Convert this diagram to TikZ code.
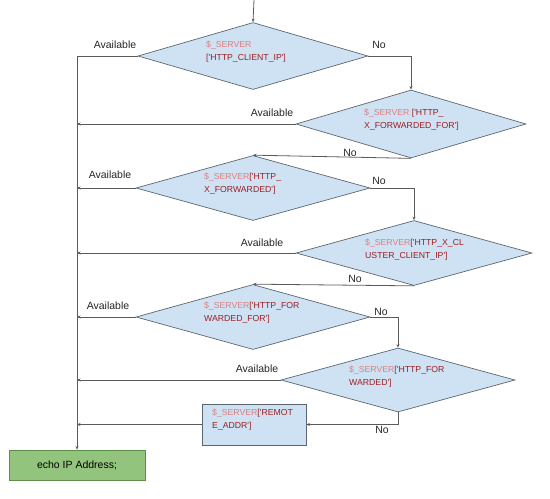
\documentclass[tikz,border=0pt]{standalone}
\usepackage{fontspec}
\setmainfont{Liberation Sans}
\usepackage{xcolor}
\usetikzlibrary{arrows, arrows.meta}
\usetikzlibrary{shapes.geometric}
\definecolor{decblue}{HTML}{CFE2F3}
\definecolor{decline}{HTML}{5C6670}
\definecolor{echogreen}{HTML}{93C47D}
\definecolor{echoline}{HTML}{5E8F48}
\definecolor{srvlight}{HTML}{D98080}
\definecolor{srvdark}{HTML}{9C1F22}
\definecolor{wire}{HTML}{5A5A5A}
\newcommand{\sq}{\textquotesingle}
\newcommand{\srv}[2]{{\color{srvlight}\$\_SERVER}{\color{srvdark}#1}\\{\color{srvdark}#2}}

\begin{document}
\begin{tikzpicture}[x=1pt, y=-1pt,
    decision/.style={diamond, draw=decline, fill=decblue, line width=0.7pt, inner sep=0pt},
    code/.style={anchor=base west, inner sep=0pt, align=left, font=\fontsize{8.7}{13}\selectfont},
    lbl/.style={inner sep=0pt, font=\fontsize{10.5}{12}\selectfont, text=black!85},
    wirearr/.style={draw=wire, line width=0.8pt, -{Stealth[length=3.5pt, width=3pt]}},
    wireline/.style={draw=wire, line width=0.8pt}]
    \useasboundingbox (0,0) rectangle (550,499);

    \coordinate (start) at (254,0);
    \node[decision, minimum width=230, minimum height=67] (d1) at (253,56) {};
    \node[decision, minimum width=230, minimum height=68] (d2) at (411,124) {};
    \node[decision, minimum width=234, minimum height=65] (d3) at (253,188) {};
    \node[decision, minimum width=236, minimum height=65] (d4) at (414,253) {};
    \node[decision, minimum width=234, minimum height=65] (d5) at (253,317) {};
    \node[decision, minimum width=234, minimum height=64] (d6) at (398,380) {};
    \node[rectangle, draw=decline, fill=decblue, line width=0.7pt, minimum width=104, minimum height=41] (addr) at (254,424.5) {};
    \node[rectangle, draw=echoline, fill=echogreen, line width=0.8pt, minimum width=136, minimum height=30, font=\fontsize{10.5}{12}\selectfont] (echo) at (77,465) {echo IP Address;};

    % texts in the shapes
    \node[code] (t1) at (206,60) {{\color{srvlight}\$\_SERVER}\\{\color{srvdark}[\sq HTTP\_CLIENT\_IP\sq]}};
    \node[code] (t2) at (364,128) {{\color{srvlight}\$\_SERVER} {\color{srvdark}[\sq HTTP\_}\\{\color{srvdark}X\_FORWARDED\_FOR\sq]}};
    \node[code] (t3) at (204,192) {\srv{[\sq HTTP\_}{X\_FORWARDED\sq]}};
    \node[code] (t4) at (365,258) {\srv{[\sq HTTP\_X\_CL}{USTER\_CLIENT\_IP\sq]}};
    \node[code] (t5) at (204,321) {\srv{[\sq HTTP\_FOR}{WARDED\_FOR\sq]}};
    \node[code] (t6) at (349,385) {\srv{[\sq HTTP\_FOR}{WARDED\sq]}};
    \node[code] (t7) at (212,428) {\srv{[\sq REMOT}{E\_ADDR\sq]}};

    % labels
    \node[lbl] (av1) at (115,45) {Available};
    \node[lbl] (no1) at (379,45) {No};
    \node[lbl] (av2) at (272,113) {Available};
    \node[lbl] (no2) at (350,153) {No};
    \node[lbl] (av3) at (110,175) {Available};
    \node[lbl] (no3) at (379,181) {No};
    \node[lbl] (av4) at (262,243) {Available};
    \node[lbl] (no4) at (355,279) {No};
    \node[lbl] (av5) at (108,306) {Available};
    \node[lbl] (no5) at (381,312) {No};
    \node[lbl] (av6) at (257,369) {Available};
    \node[lbl] (no6) at (382,430) {No};

    \draw[wirearr] (start) -- (d1.north);
    \draw[wirearr] (d1.west) -| (echo.north);
    \draw[wirearr] (d1.east) -| (d2.north);
    \draw[wirearr] (d2.west) -- (d2.west -| echo.north);
    \draw[wirearr] (d2.south) -- (d3.north);
    \draw[wirearr] (d3.west) -- (d3.west -| echo.north);
    \draw[wirearr] (d3.east) -| (d4.north);
    \draw[wirearr] (d4.west) -- (d4.west -| echo.north);
    \draw[wirearr] (d4.south) -- (d5.north);
    \draw[wirearr] (d5.west) -- (d5.west -| echo.north);
    \draw[wirearr] (d5.east) -| (d6.north);
    \draw[wirearr] (d6.west) -- (d6.west -| echo.north);
    \draw[wirearr] (d6.south) |- (addr.east);
    \draw[wirearr] (addr.west) -- (addr.west -| echo.north);
\end{tikzpicture}
\end{document}
